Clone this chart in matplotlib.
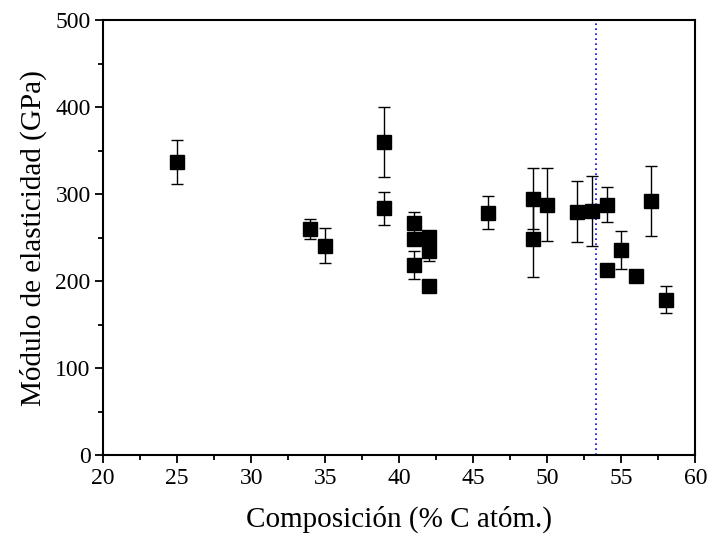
import matplotlib
matplotlib.use("Agg")
import matplotlib.pyplot as plt
from matplotlib.ticker import MultipleLocator

# Data
composition = [25, 34, 35, 39, 39, 41, 41, 41, 42, 42, 42, 46, 49, 49, 50, 52, 53, 54, 54, 55, 56, 57, 58]
modulus     = [337, 260, 241, 360, 284, 267, 248, 219, 251, 234.5, 194, 279, 295, 248, 288, 280, 281, 288, 213, 236, 206, 292, 179]
error       = [25, 11, 20, 40, 19, 13, 0, 16, 0, 11, 0, 19, 35, 43, 42, 35, 40, 20, 0, 22, 0, 40, 15]
limit_x = 53.3

x_label = "Composición (% C atóm.)"
y_label = "Módulo de elasticidad (GPa)"

plt.rcParams['font.family'] = ['Liberation Serif', 'DejaVu Serif']

fig = plt.figure(figsize=(7.07, 5.40), dpi=100)
ax = fig.add_axes([0.146, 0.157, 0.8375, 0.8055])

ax.errorbar(composition, modulus, yerr=error, fmt='s', color='black',
            markersize=9.5, ecolor='black', elinewidth=1.0, capsize=4.5,
            capthick=1.0, zorder=3)

ax.axvline(limit_x, color='blue', linestyle=(0, (1, 2)), linewidth=1.2, zorder=2)

ax.set_xlim(20, 60)
ax.set_ylim(0, 500)
ax.xaxis.set_major_locator(MultipleLocator(5))
ax.xaxis.set_minor_locator(MultipleLocator(2.5))
ax.yaxis.set_major_locator(MultipleLocator(100))
ax.yaxis.set_minor_locator(MultipleLocator(50))

ax.tick_params(which='major', direction='out', length=6, width=1.3, labelsize=17,
               top=False, right=False, pad=3)
ax.tick_params(which='minor', direction='out', length=3.5, width=1.3,
               top=False, right=False)
for s in ax.spines.values():
    s.set_linewidth(1.5)

ax.set_xlabel(x_label, fontsize=21, labelpad=12)
ax.set_ylabel(y_label, fontsize=21, labelpad=6)

fig.savefig("out.png", dpi=100)
